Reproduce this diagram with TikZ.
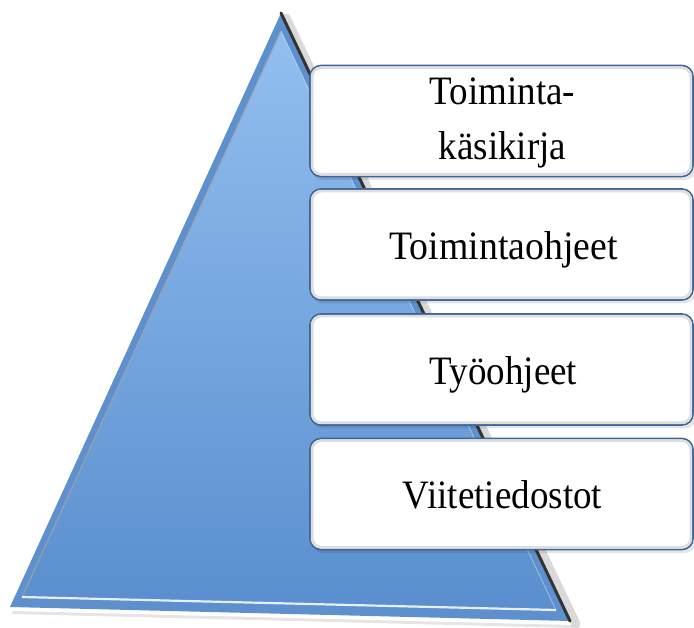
\documentclass[tikz,border=0pt]{standalone}
\usepackage{fontspec}
\setmainfont{Liberation Serif}
\begin{document}
\begin{tikzpicture}[x=1pt,y=-1pt,
  boxnode/.style={draw=boxline, line width=1.6pt, fill=white, rounded corners=11pt,
    minimum width=383pt, minimum height=111pt, inner sep=0pt},
  bevel/.style={draw=black!13, line width=2.6pt, rounded corners=9pt},
  boxshadow/.style={fill=black, opacity=0.10, rounded corners=11pt},
  lbl/.style={anchor=base, font=\fontsize{37pt}{44pt}\selectfont, inner sep=0pt}]
\definecolor{boxline}{HTML}{3F6596}
\definecolor{trtop}{HTML}{92BFF0}
\definecolor{trbot}{HTML}{5A8ECE}
\definecolor{trband}{HTML}{5E90CE}
\useasboundingbox (0,0) rectangle (694,628);
% triangle points
\coordinate (A) at (281,13);
\coordinate (L) at (10,607);
\coordinate (R) at (570,621);
\coordinate (Ai) at (281,31);
\coordinate (Li) at (22,597);
\coordinate (Ri) at (556,610);
% soft drop shadow
\fill[black, opacity=0.10] (13,611) -- (572,625) -- (574,628) -- (12,614) -- cycle;
\draw[black, opacity=0.15, line width=9pt, line cap=round] (286,18) -- (576,624);
% bevel band and body
\fill[trband] (A) -- (L) -- (R) -- cycle;
\shade[top color=trtop, bottom color=trbot] (Ai) -- (Li) -- (Ri) -- cycle;
\draw[color=black!35, opacity=0.6, line width=1.5pt] (Ai) -- (Li);
\draw[white, opacity=0.85, line width=2.2pt] (Li) -- (Ri);
\draw[white, opacity=0.35, line width=1pt] (Ai) -- (Ri);
% dark right edge
\draw[black!80, line width=3pt, line cap=round] (A) -- (R);
% boxes
\foreach \n/\yy in {b1/121, b2/244.5, b3/369.5, b4/494} {
  \fill[boxshadow] (312,\yy-52) rectangle (696,\yy+59);
}
\node[boxnode] (b1) at (501.5,121) {};
\node[boxnode] (b2) at (501.5,244.5) {};
\node[boxnode] (b3) at (501.5,369.5) {};
\node[boxnode] (b4) at (501.5,494) {};
\foreach \b in {b1,b2,b3,b4} {
  \draw[bevel] ([shift={(3,3)}]\b.north west) rectangle ([shift={(-3,-3)}]\b.south east);
}
% labels
\path (b1.center) ++(1,-16) node[lbl] (t1a) {\scalebox{1}[1.09]{Toiminta-}};
\path (b1.center) ++(1,39) node[lbl] (t1b) {\scalebox{1}[1.09]{käsikirja}};
\path (b2.center) ++(2,15.5) node[lbl] (t2) {\scalebox{1.02}[1.09]{Toimintaohjeet}};
\path (b3.center) ++(2,15.5) node[lbl] (t3) {\scalebox{1}[1.09]{Työohjeet}};
\path (b4.center) ++(1,14) node[lbl] (t4) {\scalebox{1}[1.09]{Viitetiedostot}};
\end{tikzpicture}
\end{document}
